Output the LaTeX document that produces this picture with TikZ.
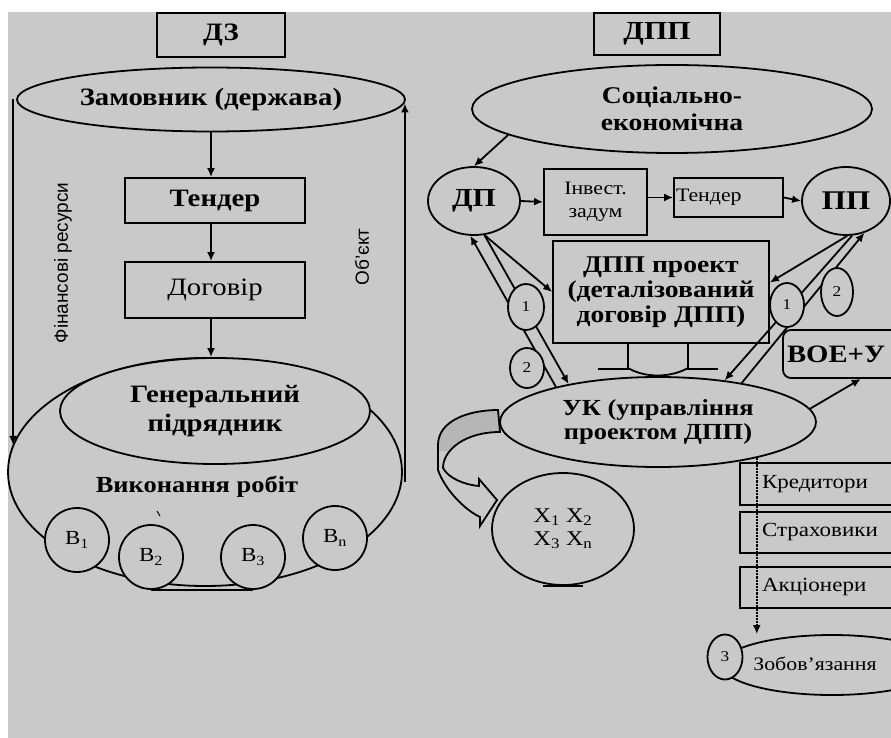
\documentclass[tikz,border=0pt]{standalone}
\usepackage{fontspec}
\setmainfont{Liberation Serif}[FakeStretch=1.15]
\newfontfamily\sansf{Liberation Sans}
\usetikzlibrary{shapes.geometric,arrows.meta,calc}
\definecolor{bg}{RGB}{201,201,201}
\definecolor{shd}{RGB}{182,182,182}
\newcommand\myfs[2]{\fontsize{#1}{#2}\selectfont}
\begin{document}
\begin{tikzpicture}[x=1pt,y=-1pt, line width=1.8pt,
  arr/.style={-{Latex[length=9pt,width=8pt]}},
  box/.style={draw, rectangle, inner sep=0pt, align=center},
  ell/.style={draw, ellipse, inner sep=0pt, align=center, fill=bg},
  sm/.style={draw, ellipse, inner sep=0pt, fill=bg, font=\myfs{15}{15}},
  circ/.style={draw, circle, inner sep=0pt, minimum size=64pt, fill=bg, font=\myfs{20}{20}},
  stk/.style={draw, rectangle, minimum width=165pt, text width=121pt, inner xsep=22pt, align=left, font=\myfs{20}{20}},
  big/.style={font=\bfseries\myfs{25}{29}},
  mid/.style={font=\bfseries\myfs{23}{24}}
]
\useasboundingbox (0,0) rectangle (891,738);
\fill[bg] (8,12) rectangle (891,738);

% ---------------- left: ДЗ ----------------
\node[box, big, minimum width=128pt, minimum height=44pt] (dz) at (221,35) {ДЗ};
\node[ell, big, minimum width=388pt, minimum height=64pt] (zam) at (211,99.5) {Замовник (держава)};
\node[box, big, minimum width=180pt, minimum height=45pt] (tend) at (215,200.5) {Тендер};
\node[box, font=\myfs{25}{29}, minimum width=180pt, minimum height=56pt] (dog) at (215,290) {Договір};

\node[draw, ellipse, minimum width=394pt, minimum height=228pt] (outer) at (205,472) {};
\node[ell, big, minimum width=310pt, minimum height=106pt] (gen) at (215,411) {Генеральний\\підрядник};
\node[font=\bfseries\myfs{23}{23}] (vyk) at (197,487) {Виконання робіт};
\draw[line width=1pt] (157,511) -- (160,516);

\node[circ] (b1) at (77,540) {В\textsubscript{1}};
\node[circ] (b2) at (151,557) {В\textsubscript{2}};
\node[circ] (b3) at (253,557) {В\textsubscript{3}};
\node[circ] (bn) at (335,538) {В\textsubscript{n}};
\draw[line width=2.2pt] (b2.south) -- (b3.south);

\draw[arr] (zam.south) -- (zam.south |- tend.north);
\draw[arr] (tend.south -| zam.south) -- (zam.south |- dog.north);
\draw[arr] (dog.south -| zam.south) -- (zam.south |- gen.north);
\draw[arr] ([xshift=-3pt]zam.west) -- ([xshift=-3pt]zam.west |- outer.172);
\draw[arr] ([xshift=2pt,yshift=-10pt]outer.east) -- ([xshift=-1pt,yshift=-4pt]zam.east);

\node[rotate=90, font=\sansf\myfs{19}{19}] (fin) at (63,263) {Фінансові ресурси};
\node[rotate=90, font=\sansf\myfs{19}{19}] (obj) at (362,257) {Об’єкт};

% ---------------- right: ДПП ----------------
\node[box, font=\bfseries\myfs{26}{26}, minimum width=126pt, minimum height=42pt] (dpp) at (657,34) {ДПП};
\node[ell, font=\bfseries\myfs{24}{27}, minimum width=400pt, minimum height=88pt] (soc) at (672,109) {Соціально-\\економічна};
\node[ell, font=\bfseries\myfs{26}{26}, minimum width=92pt, minimum height=68pt] (dp) at (474,201) {ДП};
\node[box, font=\myfs{19}{23}, minimum width=103pt, minimum height=66pt] (inv) at (595.5,202) {Інвест.\\задум};
\node[box, font=\myfs{19}{19}, minimum height=39pt, text width=105pt, inner xsep=2pt, align=left] (tnd) at (728.5,197.5) {Тендер};
\node[ell, font=\bfseries\myfs{27}{27}, minimum width=88pt, minimum height=68pt] (pp) at (846,201) {ПП};
\node[box, font=\bfseries\myfs{24}{25}, minimum width=216pt, minimum height=102pt] (proj) at (661,292) {ДПП проект\\(деталізований\\договір ДПП)};
\node[box, rounded corners=8pt, font=\bfseries\myfs{25}{25}, minimum height=48pt, text width=114pt, inner xsep=4pt, align=left] (voe) at (844,354) {ВОЕ+У};
\node[ell, mid, minimum width=316pt, minimum height=90pt] (uk) at (658,422) {УК (управління\\проектом ДПП)};

\draw ([xshift=-33pt]proj.south) -- ++(0,25) -- ++(-30,0);
\draw ([xshift=27pt]proj.south) -- ++(0,25) -- ++(30,0);
\draw (628,368) .. controls (645,378) and (670,378) .. (688,368);

\draw[arr] (soc.189) -- (dp.north);
\draw[arr] (dp.east) -- (inv.west);
\draw[arr] (inv.east |- tnd.west) -- (tnd.west);
\draw[arr] (tnd.east) -- (pp.west);

\draw[arr] (uk.161) -- (dp.264);
\draw[arr] (dp.287) -- (uk.157);
\draw[arr] (dp.287) -- (proj.west);
\draw[arr] (pp.272) -- (proj.5);
\draw[arr] (pp.280) -- (uk.32);
\draw[arr] (uk.25) -- (pp.300);
\draw[arr] (uk.5) -- (voe.304);

\node[sm, minimum width=36pt, minimum height=46pt] (c1l) at (526,307) {1};
\node[sm, minimum width=34pt, minimum height=40pt] (c2l) at (527,368) {2};
\node[sm, minimum width=34pt, minimum height=44pt] (c1r) at (787,305) {1};
\node[sm, minimum width=32pt, minimum height=48pt] (c2r) at (837,292) {2};

% curved block arrow
\def\blockarrow{(498,410) .. controls (470,410) and (438,420) .. (438,445) -- (438,470) .. controls (445,490) and (465,510) .. (480,517) -- (480,526) -- (497,500) -- (479,479) -- (479,486) .. controls (465,485) and (448,478) .. (443,468) .. controls (443,450) and (465,432) .. (500,432) -- cycle}
\fill[bg] \blockarrow;
\begin{scope}
\clip \blockarrow;
\fill[shd] (430,400) rectangle (505,451);
\end{scope}
\draw \blockarrow;

\node[ell, font=\myfs{21}{23}, minimum width=142pt, minimum height=112pt] (xc) at (563,529) {X\textsubscript{1} X\textsubscript{2}\\X\textsubscript{3} X\textsubscript{n}};
\draw[line width=2.2pt] ([xshift=-20pt]xc.south) -- ([xshift=20pt]xc.south);

\node[stk, minimum height=42pt] (kred) at (822.5,484) {Кредитори};
\node[stk, minimum height=41pt] (strah) at (822.5,532.5) {Страховики};
\node[stk, minimum height=41pt] (akc) at (822.5,587.5) {Акціонери};

\node[draw, ellipse, minimum width=220pt, minimum height=60pt] (zob) at (832,665) {};
\node[font=\myfs{19}{19}] (zobt) at (815,664) {Зобов’язання};
\node[sm, minimum width=35pt, minimum height=45pt] (c3) at (725,657) {3};

\draw[densely dotted, line width=2.2pt, arr] (uk.-20.6) -- (uk.-20.6 |- zob.north);
\end{tikzpicture}
\end{document}
